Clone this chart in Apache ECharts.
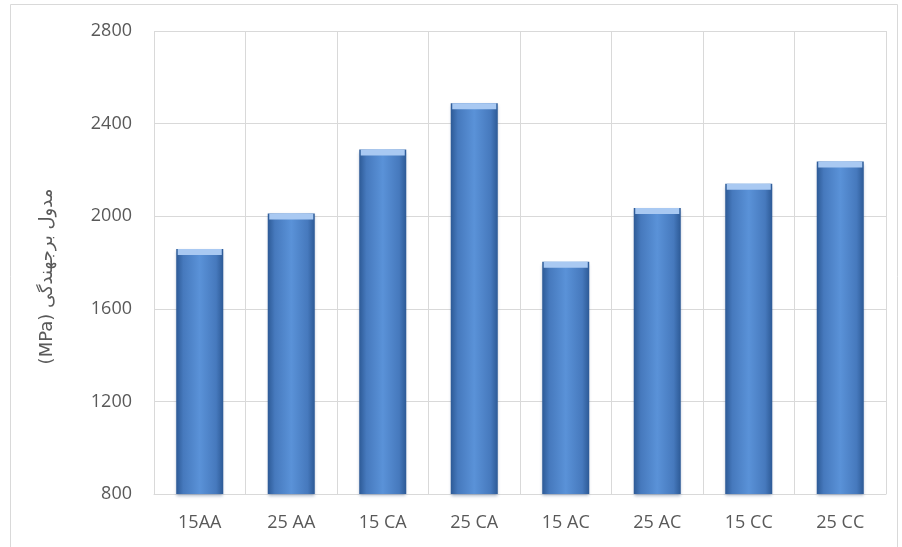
<!DOCTYPE html>
<html>
<head>
<meta charset="utf-8">
<script src="https://cdn.jsdelivr.net/npm/echarts@6/dist/echarts.min.js"></script>
<style>
  html, body { margin: 0; padding: 0; background: #fff; }
  #chart { width: 902px; height: 547px; }
</style>
</head>
<body>
<div id="chart"></div>
<script>
const categories = ['15AA', '25 AA', '15 CA', '25 CA', '15 AC', '25 AC', '15 CC', '25 CC'];
const modulus = [1858, 2012, 2288, 2488, 1803, 2035, 2140, 2236];
const yTicks = [800, 1200, 1600, 2000, 2400, 2800];

const chart = echarts.init(document.getElementById('chart'));

const barFill = new echarts.graphic.LinearGradient(0, 0, 1, 0, [
  { offset: 0, color: '#2d5a96' },
  { offset: 0.15, color: '#4679bd' },
  { offset: 0.5, color: '#5a92d8' },
  { offset: 0.85, color: '#4679bd' },
  { offset: 1, color: '#2d5a96' }
]);

const option = {
  animation: false,
  textStyle: { fontFamily: 'Open Sans, Noto Sans, DejaVu Sans' },
  graphic: [{
    type: 'rect',
    shape: { x: 10.5, y: 4.5, width: 887, height: 560 },
    style: { fill: 'none', stroke: '#d9d9d9', lineWidth: 1 },
    silent: true
  }],
  grid: { left: 154, right: 16, top: 31, bottom: 53 },
  xAxis: {
    type: 'category',
    data: categories,
    axisLine: { lineStyle: { color: '#d9d9d9', width: 1 } },
    axisTick: { show: false },
    splitLine: { show: true, interval: 0, lineStyle: { color: '#d9d9d9' } },
    axisLabel: { color: '#595959', fontSize: 18, margin: 20, interval: 0 }
  },
  yAxis: {
    type: 'value',
    min: yTicks[0],
    max: yTicks[yTicks.length - 1],
    interval: 400,
    name: '(MPa) مدول برجهندگی',
    nameLocation: 'middle',
    nameGap: 98,
    nameTextStyle: { color: '#595959', fontSize: 18, fontFamily: 'DejaVu Sans, Noto Sans', padding: [0, 28, 0, 0] },
    axisLine: { show: false },
    axisTick: { show: false },
    splitLine: { lineStyle: { color: '#d9d9d9' } },
    axisLabel: { color: '#595959', fontSize: 18, margin: 22, formatter: v => String(v) }
  },
  series: [
    {
      type: 'bar',
      data: modulus,
      barWidth: 47,
      barGap: '-100%',
      itemStyle: {
        color: barFill,
        shadowColor: 'rgba(30,60,110,0.35)',
        shadowBlur: 3,
        shadowOffsetY: 2
      }
    },
    {
      type: 'pictorialBar',
      data: modulus,
      barGap: '-100%',
      barWidth: 47,
      symbol: 'rect',
      symbolSize: [44, 6],
      symbolPosition: 'end',
      symbolOffset: [0, 0],
      z: 5,
      itemStyle: { color: '#a9c9f2' }
    }
  ]
};

chart.setOption(option);
</script>
</body>
</html>
